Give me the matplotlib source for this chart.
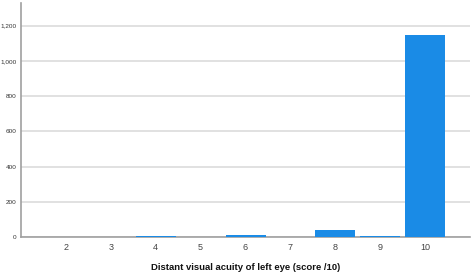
import matplotlib
matplotlib.use("Agg")
import matplotlib.pyplot as plt
from matplotlib.ticker import FuncFormatter

plt.rcParams["font.family"] = ["Liberation Sans", "DejaVu Sans"]

# données
scores = [2, 3, 4, 5, 6, 7, 8, 9, 10]
counts = [1, 1, 10, 1, 16, 3, 40, 8, 1147]
y_ticks = [0, 200, 400, 600, 800, 1000, 1200]

fig = plt.figure(figsize=(4.74, 2.8), dpi=100)
ax = fig.add_axes([0.044, 0.152, 0.948, 0.837])

ax.bar(scores, counts, width=0.89, color="#1a8be6", zorder=3)

ax.set_xlim(1, 11)
ax.set_ylim(0, 1327)
ax.set_xticks(scores)
ax.set_yticks(y_ticks)
ax.yaxis.set_major_formatter(FuncFormatter(lambda v, p: f"{int(v):,}"))

ax.grid(axis="y", color="#dedede", linewidth=1.3, zorder=0)
for side in ["top", "right"]:
    ax.spines[side].set_visible(False)
ax.spines["left"].set_color("#a0a0a0")
ax.spines["bottom"].set_color("#a0a0a0")
ax.spines["left"].set_linewidth(1.2)
ax.spines["bottom"].set_linewidth(1.2)

ax.tick_params(axis="y", length=0, pad=3, labelsize=4.6, labelcolor="#333333")
ax.tick_params(axis="x", length=0, pad=4, labelsize=6.5, labelcolor="#444444")

ax.set_xlabel("Distant visual acuity of left eye (score /10)",
              fontsize=6.8, fontweight="bold", color="#111111", labelpad=8)

fig.savefig("out.png", dpi=100)
